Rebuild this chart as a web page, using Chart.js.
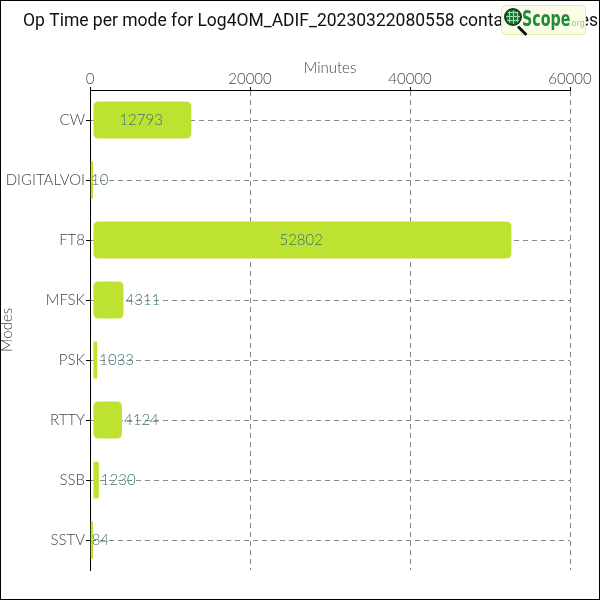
<!DOCTYPE html>
<html>
<head>
<meta charset="utf-8">
<script src="https://cdn.jsdelivr.net/npm/chart.js@4.4.0/dist/chart.umd.min.js"></script>
<style>
html,body{margin:0;padding:0;background:#fff;}
#wrap{position:relative;width:600px;height:600px;}
canvas{display:block;}
#logo{position:absolute;left:501px;top:5px;width:85px;height:30px;background:#fafce4;border:1px solid #e3ecaa;border-radius:4px;box-sizing:border-box;}
#globe{position:absolute;left:2px;top:2px;width:18px;height:18px;border-radius:50%;box-sizing:border-box;border:2px solid #123d1f;
  background-color:#1f7a3a;
  background-image:repeating-linear-gradient(90deg,transparent 0 3px,#9fdcaa 3px 4px),repeating-linear-gradient(0deg,transparent 0 3px,#9fdcaa 3px 4px);}
#handle{position:absolute;left:16px;top:19px;width:12px;height:3px;background:#111;transform:rotate(45deg);transform-origin:0 50%;border-radius:1px;}
#scope{position:absolute;left:20px;top:0px;font-family:"Liberation Sans Narrow","DejaVu Sans Condensed",sans-serif;font-weight:bold;font-size:22px;line-height:26px;color:#1d8a3c;transform:scaleX(0.72);transform-origin:0 50%;}
#org{position:absolute;left:67px;top:13px;font-family:"DejaVu Sans",sans-serif;font-size:8px;color:#9acd7e;}
</style>
</head>
<body>
<div id="wrap">
<canvas id="c" width="600" height="600"></canvas>
<div id="logo"><div id="globe"></div><div id="handle"></div><div id="scope">Scope</div><div id="org">.org</div></div>
</div>
<script>
// ---- data ----
const chartTitle = 'Op Time per mode for Log4OM_ADIF_20230322080558 contains 8 modes per file';
const xAxisTitle = 'Minutes';
const yAxisTitle = 'Modes';
const categories = ['CW', 'DIGITALVOICE', 'FT8', 'MFSK', 'PSK', 'RTTY', 'SSB', 'SSTV'];
const minutes = [12793, 10, 52802, 4311, 1033, 4124, 1230, 84];
const xTickMin = 0;
const xTickMax = 60000;
const xTickStep = 20000;

// ---- styles ----
const FONT = 'Lato';
const barFill = '#bde232';
const labelColor = '#3d7373';

function tinyBar(ctx) {
  const sx = ctx.chart.scales && ctx.chart.scales.x;
  if (!sx || ctx.raw == null) return false;
  return Math.abs(sx.getPixelForValue(ctx.raw) - sx.getPixelForValue(0)) < 5;
}

const valueLabels = {
  id: 'valueLabels',
  afterDatasetsDraw(chart) {
    const ctx = chart.ctx;
    const sx = chart.scales.x;
    const meta = chart.getDatasetMeta(0);
    ctx.save();
    ctx.font = '300 15px ' + FONT;
    ctx.fillStyle = labelColor;
    ctx.textBaseline = 'middle';
    meta.data.forEach((el, i) => {
      const v = chart.data.datasets[0].data[i];
      const txt = String(v);
      const w = ctx.measureText(txt).width;
      const p0 = sx.getPixelForValue(0);
      const p1 = sx.getPixelForValue(v);
      if (p1 - p0 > w + 16) {
        ctx.textAlign = 'center';
        ctx.fillText(txt, (p0 + p1) / 2, el.y);
      } else {
        ctx.textAlign = 'left';
        ctx.fillText(txt, p1 + 1, el.y);
      }
    });
    ctx.restore();
  }
};

const titleAndFrame = {
  id: 'titleAndFrame',
  afterDraw(chart) {
    const ctx = chart.ctx;
    ctx.save();
    ctx.font = '400 17.5px Roboto';
    ctx.fillStyle = '#111';
    ctx.textBaseline = 'middle';
    ctx.textAlign = 'left';
    ctx.fillText(chartTitle, 23, 22);
    ctx.strokeStyle = '#000';
    ctx.lineWidth = 1;
    ctx.strokeRect(0.5, 0.5, chart.width - 1, chart.height - 1);
    ctx.restore();
  }
};

new Chart(document.getElementById('c'), {
  type: 'bar',
  data: {
    labels: categories,
    datasets: [{
      data: minutes,
      backgroundColor: barFill,
      borderColor: 'rgba(255,255,255,0)',
      borderWidth: ctx => tinyBar(ctx) ? {top: 3, bottom: 3, left: 0, right: 0} : {top: 3, bottom: 3, left: 3, right: 1},
      borderSkipped: false,
      borderRadius: ctx => tinyBar(ctx) ? 0 : 8,
      minBarLength: 3,
      barPercentage: 0.9,
      categoryPercentage: 0.8
    }]
  },
  options: {
    indexAxis: 'y',
    responsive: false,
    animation: false,
    layout: {padding: {top: 42, left: 0, right: 30, bottom: 30}},
    plugins: {legend: {display: false}, title: {display: false}, tooltip: {enabled: false}},
    scales: {
      x: {
        position: 'top',
        min: xTickMin,
        max: xTickMax,
        ticks: {
          stepSize: xTickStep, color: '#444', font: {family: FONT, size: 15, weight: '300'}, padding: -1, maxRotation: 0,
          callback(v) { return String(v); }
        },
        grid: {color: '#888', tickColor: '#000', tickLength: 3},
        border: {color: '#000', dash: [5, 4]},
        title: {display: true, text: xAxisTitle, color: '#444', font: {family: FONT, size: 15, weight: '300'}, padding: {top: 17, bottom: 0}},
        afterFit(s) { s.height = 48; }
      },
      y: {
        ticks: {
          color: '#444',
          font: {family: FONT, size: 15, weight: '300'},
          padding: 1,
          callback(v) { return String(this.getLabelForValue(v)).slice(0, 10); }
        },
        grid: {offset: false, color: '#888', tickColor: '#000', tickLength: 4},
        border: {color: '#000', dash: [5, 4]},
        title: {display: true, text: yAxisTitle, color: '#444', font: {family: FONT, size: 15, weight: '300', lineHeight: 1}, padding: 0},
        afterFit(s) { s.width = 90; }
      }
    }
  },
  plugins: [valueLabels, titleAndFrame]
});
</script>
</body>
</html>
